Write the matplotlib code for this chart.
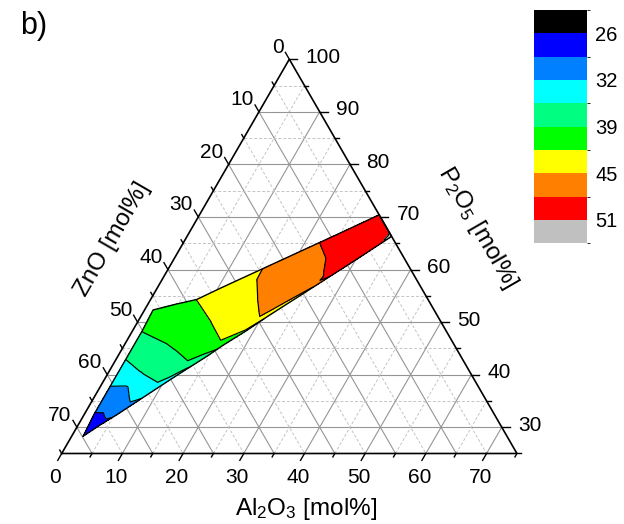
import numpy as np
import matplotlib
matplotlib.use("Agg")
import matplotlib.pyplot as plt
import matplotlib.tri as mtri
from matplotlib.colors import ListedColormap, BoundaryNorm
from matplotlib.cm import ScalarMappable

plt.rcParams["font.family"] = ["Liberation Sans", "DejaVu Sans"]
plt.rcParams["mathtext.fontset"] = "custom"
plt.rcParams["mathtext.rm"] = "Liberation Sans"
plt.rcParams["mathtext.it"] = "Liberation Sans:italic"

# tip sample of the glass band (mol%) and its value
tip_zno, tip_al, tip_val = 69.8, 1.9, 26.6

# samples in columns across the band: ZnO of each column,
# Al2O3 of the upper / middle / near-lower / lower sample (P2O5 = rest)
zno = [66, 62, 58, 54, 50, 46.3, 42, 38.1, 33, 28, 23, 18, 13, 8, 4, 0]
al_up = [1.6, 1.6, 1.6, 1.6, 1.6, 1.4, 4.6, 7.6, 10.5, 13.4, 16.3, 19.2, 22.1, 25.0, 27.3, 29.6]
al_mid = [2.6, 3.5, 4.4, 5.4, 6.3, 7.0, 9.6, 12.0, 14.6, 17.2, 19.8, 22.3, 24.9, 27.5, 29.6, 31.6]
al_near = [3.4, 5.1, 6.7, 8.4, 10.0, 11.5, 13.6, 15.4, 17.9, 20.2, 22.5, 24.9, 27.2, 29.6, 31.4, 33.3]
al_low = [3.6, 5.5, 7.3, 9.1, 10.9, 12.6, 14.6, 16.3, 18.7, 20.9, 23.2, 25.5, 27.8, 30.1, 31.9, 33.7]

val_up = [28.9, 31.4, 33.85, 36.3, 38.6, 39.6, 40.7, 41.65, 43.1, 44.2, 44.95, 46.5, 47.75, 48.8, 49.5, 49.8]
val_mid = [28.3, 30.2, 32.1, 35.5, 37.4, 38.9, 40.2, 41.55, 43.2, 44.7, 45.8, 46.8, 47.85, 49.0, 49.8, 50.6]
val_near = [28.25, 30.4, 32.7, 34.65, 36.5, 38.1, 40.05, 41.6, 43.65, 45.15, 46.2, 47.25, 48.3, 49.5, 50.3, 51.1]
val_low = [28.2, 29.6, 31.7, 33.2, 34.4, 35.1, 36.6, 39.5, 41.0, 41.75, 43.3, 44.5, 48.8, 48.9, 49.6, 51.5]

levels = [26, 29.125, 32.25, 35.375, 38.5, 41.625, 44.75, 47.875, 51]
colors = ["#000000", "#0000ff", "#0080ff", "#00ffff", "#00ff80",
          "#00ff00", "#ffff00", "#ff8000", "#ff0000", "#c0c0c0"]
cbar_ticks = [26, 32.25, 38.5, 44.75, 51]
cbar_labels = ["26", "32", "39", "45", "51"]

H = np.sqrt(3) / 2


def tern(zn, al):
    zn = np.asarray(zn, float)
    al = np.asarray(al, float)
    p = 100 - zn - al
    return al + p / 2, p * H


fig = plt.figure(figsize=(6.24, 5.24), dpi=100)
ax = fig.add_axes([0, 0, 1, 1])
ax.set_xlim(2.335, 105.14)
ax.set_ylim(10.035, 96.36)
ax.axis("off")

# grid
for v in range(5, 100, 5):
    if v % 10 == 0:
        kw = dict(color="#959595", lw=0.8, zorder=1)
    else:
        kw = dict(color="#c4c4c4", lw=0.7, ls=(0, (3, 2)), zorder=1)
    if v >= 30:
        x, y = tern([100 - v, 0], [0, 100 - v])
        ax.plot(x, y, **kw)
    if v <= 70:
        x, y = tern([75 - v, 0], [v, v])
        ax.plot(x, y, **kw)
        x, y = tern([v, v], [0, 75 - v])
        ax.plot(x, y, **kw)

# contour data
rows_al = [al_up, al_mid, al_near, al_low]
rows_val = [val_up, val_mid, val_near, val_low]
tx, ty = tern(tip_zno, tip_al)
xs, ys = [[tx]], [[ty]]
for al in rows_al:
    xr, yr = tern(zno, al)
    xs.append(xr)
    ys.append(yr)
x = np.concatenate(xs)
y = np.concatenate(ys)
z = np.concatenate([[tip_val]] + rows_val)

n = len(zno)
nr = len(rows_al)
tris = []
for r in range(nr - 1):
    a, b = 1 + r * n, 1 + (r + 1) * n
    tris.append([0, a, b])
    for i in range(n - 1):
        tris += [[a + i, a + i + 1, b + i + 1], [a + i, b + i + 1, b + i]]
tri = mtri.Triangulation(x, y, tris)

ax.tricontourf(tri, z, levels=levels, colors=colors, extend="both", zorder=2)
ax.tricontour(tri, z, levels=levels, colors="k", linewidths=0.85, zorder=3)
ox = np.concatenate([[tx], xs[-1], xs[1][::-1], [tx]])
oy = np.concatenate([[ty], ys[-1], ys[1][::-1], [ty]])
ax.plot(ox, oy, color="k", lw=1.0, zorder=3)

# frame
x, y = tern([75, 0, 0, 75], [0, 75, 0, 0])
ax.plot(x, y, color="k", lw=1.2, zorder=4, solid_joinstyle="miter")

# ticks and labels
for v in range(0, 80, 5):
    L = 1.3 if v % 10 == 0 else 0.65
    # bottom, Al2O3
    x0, y0 = tern(75 - v, v)
    ax.plot([x0, x0 - 0.5 * L], [y0, y0 - H * L], color="k", lw=1, zorder=4)
    if v % 10 == 0:
        ax.annotate(str(v), (x0, y0), xytext=(-6.5, -24.5), textcoords="offset pixels",
                    ha="center", va="center", fontsize=15)
    # left, ZnO
    x0, y0 = tern(v, 0)
    ax.plot([x0, x0 - 0.5 * L], [y0, y0 + H * L], color="k", lw=1, zorder=4)
    if v % 10 == 0:
        ax.annotate(str(v), (x0, y0), xytext=(-5.5, 12), textcoords="offset pixels",
                    ha="right", va="center", fontsize=15)
for v in range(25, 105, 5):
    L = 1.3 if v % 10 == 0 else 0.65
    x0, y0 = tern(0, 100 - v)
    ax.plot([x0, x0 + L], [y0, y0], color="k", lw=1, zorder=4)
    if v % 10 == 0:
        ax.annotate(str(v), (x0, y0), xytext=(16.5, 2), textcoords="offset pixels",
                    ha="left", va="center", fontsize=15)

fig.text(306.5 / 624, 1 - 515 / 524, r"Al$_2$O$_3$ [mol%]", ha="center", va="baseline", fontsize=17.5)
fig.text(112 / 624, 1 - 239 / 524, "ZnO [mol%]", rotation=60, rotation_mode="anchor",
         ha="center", va="center", fontsize=17.5)
fig.text(477 / 624, 1 - 228 / 524, r"P$_2$O$_5$ [mol%]", rotation=-60, rotation_mode="anchor",
         ha="center", va="center", fontsize=17.5)
fig.text(20 / 624, 1 - 26 / 524, "b)", ha="left", va="center", fontsize=22)

# colour scale
cmap = ListedColormap(colors)
bounds = [levels[0] - 3.125] + levels + [levels[-1] + 3.125]
norm = BoundaryNorm(bounds, cmap.N)
cax = fig.add_axes([534 / 624, 1 - 243.3 / 524, 53 / 624, 233.3 / 524])
cb = fig.colorbar(ScalarMappable(norm=norm, cmap=cmap), cax=cax, ticks=cbar_ticks)
cb.ax.set_yticklabels(cbar_labels)
cb.ax.invert_yaxis()
cb.outline.set_visible(False)
cb.ax.tick_params(length=0, pad=6, labelsize=14.5)

fig.savefig("out.png", dpi=100)
